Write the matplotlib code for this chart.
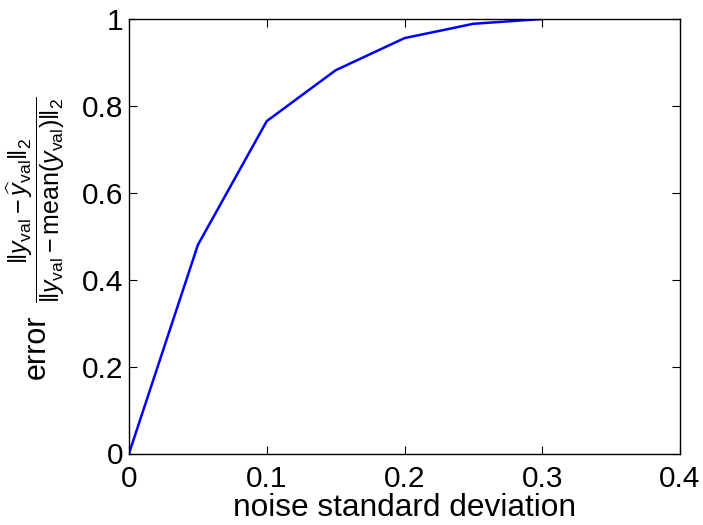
import matplotlib
matplotlib.use('Agg')
import matplotlib.pyplot as plt

# noise level vs. normalised validation error
noise_std = [0.0, 0.05, 0.1, 0.15, 0.2, 0.25, 0.3]
error = [0.0, 0.48, 0.765, 0.882, 0.956, 0.989, 1.0]

x_ticks = [0, 0.1, 0.2, 0.3, 0.4]
x_tick_labels = ['0', '0.1', '0.2', '0.3', '0.4']
y_ticks = [0, 0.2, 0.4, 0.6, 0.8, 1]
y_tick_labels = ['0', '0.2', '0.4', '0.6', '0.8', '1']

plt.rcParams['font.family'] = ['Liberation Sans', 'DejaVu Sans']
plt.rcParams['mathtext.fontset'] = 'custom'
plt.rcParams['mathtext.rm'] = 'Liberation Sans'
plt.rcParams['mathtext.it'] = 'Liberation Sans:italic'
plt.rcParams['mathtext.bf'] = 'Liberation Sans:bold'

W, H = 703, 525
fig = plt.figure(figsize=(W / 100, H / 100), dpi=100)
ax = fig.add_axes([129 / W, 1 - 453.5 / H, (680 - 129) / W, (453.5 - 19) / H])

ax.plot(noise_std, error, color='#0000ff', linewidth=1.8)

ax.set_xlim(0, 0.4)
ax.set_ylim(0, 1)
ax.set_xticks(x_ticks)
ax.set_xticklabels(x_tick_labels)
ax.set_yticks(y_ticks)
ax.set_yticklabels(y_tick_labels)
ax.tick_params(direction='in', top=True, right=True, labelsize=21.5,
               length=5.5, width=0.8)
ax.tick_params(axis='x', pad=8)
ax.tick_params(axis='y', pad=4)
for s in ax.spines.values():
    s.set_linewidth(1.0)

ax.set_xlabel('noise standard deviation', fontsize=22.8, labelpad=0.5)

# y label: word plus fraction, the fraction set a bit smaller
fig.text(37 / W, 1 - 347 / H, 'error', fontsize=22, rotation=90,
         ha='center', va='center')
fig.text(36 / W, 1 - 200 / H,
         r'$\dfrac{\|y_{\rm val}-\widehat{y}_{\rm val}\|_2}'
         r'{\|y_{\rm val}-{\rm mean}(y_{\rm val})\|_2}$',
         fontsize=18, rotation=90, ha='center', va='center')

fig.savefig('out.png', dpi=100)
